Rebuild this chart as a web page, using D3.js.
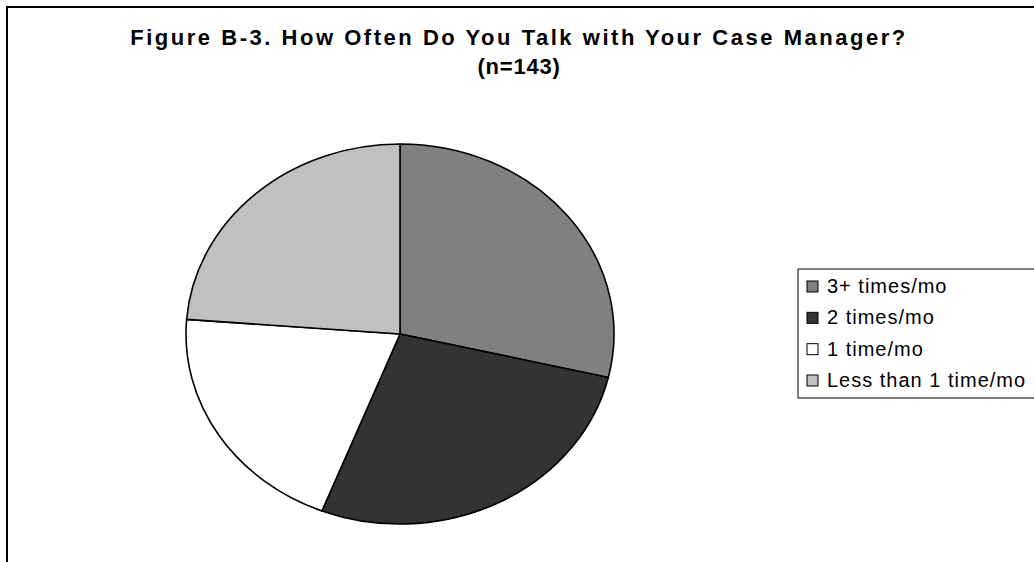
<!DOCTYPE html>
<html>
<head>
<meta charset="utf-8">
<script src="https://cdn.jsdelivr.net/npm/d3@7"></script>
<style>
  html, body { margin: 0; padding: 0; background: #fff; }
  svg { display: block; }
  text { font-family: "Liberation Sans", Arial, sans-serif; }
</style>
</head>
<body>
<svg id="chart" width="1034" height="562"></svg>
<script>
const titleLines = ["Figure B-3.  How Often Do You Talk with Your Case Manager?", "(n=143)"];
const categories = ["3+ times/mo", "2 times/mo", "1 time/mo", "Less than 1 time/mo"];
const counts = [41, 39, 29, 34];
const colors = ["#808080", "#333333", "#ffffff", "#c0c0c0"];

const svg = d3.select("#chart");
const W = 1034, H = 562;

// outer chart border (extends past right/bottom edges)
svg.append("rect")
  .attr("x", 7).attr("y", 7)
  .attr("width", W + 20).attr("height", H + 20)
  .attr("fill", "#fff").attr("stroke", "#000").attr("stroke-width", 2);

// title
function fitText(sel, target) {
  const node = sel.node();
  const n = node.textContent.length;
  const natural = node.getComputedTextLength();
  sel.attr("letter-spacing", ((target - natural) / n).toFixed(3) + "px");
}
const t1 = svg.append("text")
  .attr("x", W / 2 + 2).attr("y", 45)
  .attr("text-anchor", "middle")
  .attr("font-size", 22).attr("font-weight", "bold")
  .text(titleLines[0]);
fitText(t1, 780);
const t2 = svg.append("text")
  .attr("x", W / 2 + 2).attr("y", 74)
  .attr("text-anchor", "middle")
  .attr("font-size", 22).attr("font-weight", "bold")
  .attr("letter-spacing", "0.8px")
  .text(titleLines[1]);

// pie (elliptical)
const cx = 400, cy = 334, rx = 214, ry = 190;
const pie = d3.pie().sort(null).value(d => d)(counts);
const arc = d3.arc().innerRadius(0).outerRadius(ry);
const g = svg.append("g")
  .attr("transform", `translate(${cx},${cy}) scale(${rx / ry},1)`);
g.selectAll("path")
  .data(pie)
  .join("path")
  .attr("d", arc)
  .attr("fill", (d, i) => colors[i])
  .attr("stroke", "#000")
  .attr("stroke-width", 1.6)
  .attr("stroke-linejoin", "round")
  .attr("vector-effect", "non-scaling-stroke");

// legend
const lg = svg.append("g");
lg.append("rect")
  .attr("x", 798).attr("y", 269)
  .attr("width", 300).attr("height", 129)
  .attr("fill", "#fff").attr("stroke", "#000").attr("stroke-width", 1);
const rowY = d3.scalePoint().domain(categories).range([286, 380]);
const items = lg.selectAll("g.item").data(categories).join("g").attr("class", "item");
items.append("rect")
  .attr("x", 807).attr("y", d => rowY(d) - 5)
  .attr("width", 11).attr("height", 11)
  .attr("fill", (d, i) => colors[i])
  .attr("stroke", "#000").attr("stroke-width", 1);
items.append("text")
  .attr("x", 827).attr("y", d => rowY(d) + 7)
  .attr("font-size", 20)
  .attr("letter-spacing", "1px")
  .text(d => d);
</script>
</body>
</html>
